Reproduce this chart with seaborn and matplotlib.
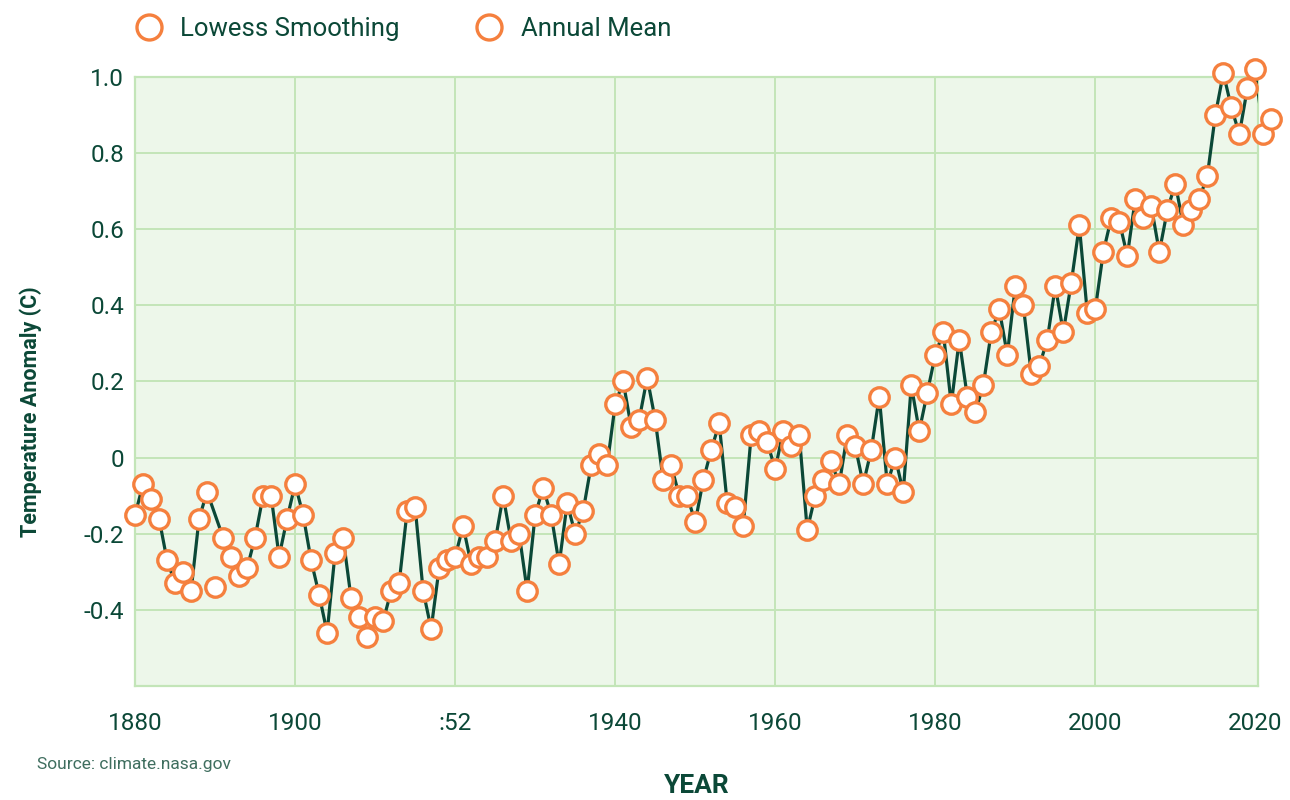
import numpy as np
import pandas as pd
import matplotlib.pyplot as plt
from matplotlib.lines import Line2D
import seaborn as sns

# NASA annual mean temperature anomaly
years = list(range(1880, 2023))
annual_mean = [
    -0.15, -0.07, -0.11, -0.16, -0.27, -0.33, -0.30, -0.35, -0.16, -0.09,   # 1880s
    -0.34, -0.21, -0.26, -0.31, -0.29, -0.21, -0.10, -0.10, -0.26, -0.16,   # 1890s
    -0.07, -0.15, -0.27, -0.36, -0.46, -0.25, -0.21, -0.37, -0.42, -0.47,   # 1900s
    -0.42, -0.43, -0.35, -0.33, -0.14, -0.13, -0.35, -0.45, -0.29, -0.27,   # 1910s
    -0.26, -0.18, -0.28, -0.26, -0.26, -0.22, -0.10, -0.22, -0.20, -0.35,   # 1920s
    -0.15, -0.08, -0.15, -0.28, -0.12, -0.20, -0.14, -0.02, 0.01, -0.02,    # 1930s
    0.14, 0.20, 0.08, 0.10, 0.21, 0.10, -0.06, -0.02, -0.10, -0.10,         # 1940s
    -0.17, -0.06, 0.02, 0.09, -0.12, -0.13, -0.18, 0.06, 0.07, 0.04,        # 1950s
    -0.03, 0.07, 0.03, 0.06, -0.19, -0.10, -0.06, -0.01, -0.07, 0.06,       # 1960s
    0.03, -0.07, 0.02, 0.16, -0.07, 0.00, -0.09, 0.19, 0.07, 0.17,          # 1970s
    0.27, 0.33, 0.14, 0.31, 0.16, 0.12, 0.19, 0.33, 0.39, 0.27,             # 1980s
    0.45, 0.40, 0.22, 0.24, 0.31, 0.45, 0.33, 0.46, 0.61, 0.38,             # 1990s
    0.39, 0.54, 0.63, 0.62, 0.53, 0.68, 0.63, 0.66, 0.54, 0.65,             # 2000s
    0.72, 0.61, 0.65, 0.68, 0.74, 0.90, 1.01, 0.92, 0.85, 0.97,             # 2010s
    1.02, 0.85, 0.89,                                                        # 2020s
]
# the connecting line skips this year in the original
line_gap_years = [1890]

x_ticks = [1880, 1900, 1920, 1940, 1960, 1980, 2000, 2020]
x_tick_labels = ["1880", "1900", ":52", "1940", "1960", "1980", "2000", "2020"]
y_ticks = [-0.4, -0.2, 0, 0.2, 0.4, 0.6, 0.8, 1.0]
y_tick_labels = ["-0.4", "-0.2", "0", "0.2", "0.4", "0.6", "0.8", "1.0"]

df = pd.DataFrame({"year": years, "anomaly": annual_mean})
line_df = df[~df["year"].isin(line_gap_years)]

dark = "#0b4837"
orange = "#f5803e"
grid_green = "#c3e5b8"

sns.set_style("white")
plt.rcParams["font.family"] = ["Roboto", "DejaVu Sans"]

fig = plt.figure(figsize=(12.9, 8), dpi=100)
ax = fig.add_axes([0.1047, 0.1425, 0.8703, 0.7613])
ax.set_facecolor("#edf7ea")

sns.lineplot(data=line_df, x="year", y="anomaly", ax=ax, color=dark,
             linewidth=2.3, zorder=3)
ax.plot(df["year"], df["anomaly"], linestyle="none", marker="o",
        markersize=14, markerfacecolor="white", markeredgecolor=orange,
        markeredgewidth=2.4, zorder=4, clip_on=False)

ax.set_xlim(1880, 2020.3)
ax.set_ylim(-0.6, 1.0)
ax.set_xticks(x_ticks)
ax.set_xticklabels(x_tick_labels)
ax.set_yticks(y_ticks)
ax.set_yticklabels(y_tick_labels)
ax.tick_params(axis="both", length=0, labelsize=17.5, colors=dark)
ax.tick_params(axis="x", pad=19)
ax.tick_params(axis="y", pad=8)

ax.grid(True, color=grid_green, linewidth=1.4, zorder=0)
ax.set_axisbelow(True)
# the 2020 gridline would double the right border
ax.get_xgridlines()[-1].set_visible(False)
for s in ax.spines.values():
    s.set_color(grid_green)
    s.set_linewidth(1.6)

ax.set_xlabel("")
ax.set_ylabel("Temperature Anomaly (C)", fontsize=15.5, fontweight="bold",
              color=dark)
ax.yaxis.set_label_coords(-0.083, 0.45)
fig.text(0.540, 0.003, "YEAR", ha="center", va="bottom", fontsize=19,
         fontweight="bold", color=dark)
fig.text(0.029, 0.044, "Source: climate.nasa.gov", ha="left", va="center",
         fontsize=12.5, color="#3f6e5f")

handles = [
    Line2D([], [], linestyle="none", marker="o", markersize=18,
           markerfacecolor="white", markeredgecolor=orange, markeredgewidth=2.4),
    Line2D([], [], linestyle="none", marker="o", markersize=18,
           markerfacecolor="white", markeredgecolor=orange, markeredgewidth=2.4),
]
leg = fig.legend(handles, ["Lowess Smoothing", "Annual Mean"], loc="center left",
                 bbox_to_anchor=(0.088, 0.964), ncol=2, frameon=False,
                 fontsize=18.5, handlelength=0.95, handletextpad=0.75,
                 columnspacing=3.0)
for t in leg.get_texts():
    t.set_color(dark)

fig.savefig("out.png", dpi=100)
